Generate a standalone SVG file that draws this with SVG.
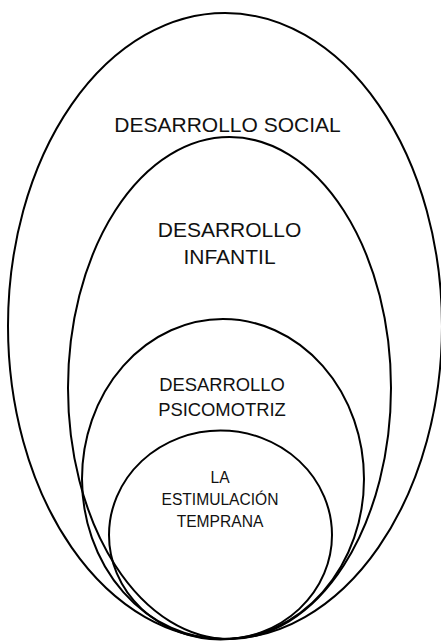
<svg xmlns="http://www.w3.org/2000/svg" width="441" height="642" viewBox="0 0 441 642">
<style>
.e{fill:none;stroke:#000;stroke-width:2}
text{font-family:"Liberation Sans",Arial,sans-serif;fill:#111;text-anchor:middle}
</style>
<rect width="441" height="642" fill="#fff"/>
<g id="social">
<ellipse class="e" cx="225" cy="326" rx="217" ry="313"/>
<text x="227.5" y="132" font-size="21">DESARROLLO SOCIAL</text>
</g>
<g id="infantil">
<ellipse class="e" cx="229.5" cy="388" rx="161.5" ry="251"/>
<text x="229.5" y="237" font-size="21">DESARROLLO</text>
<text x="229.5" y="264" font-size="21">INFANTIL</text>
</g>
<g id="psicomotriz">
<ellipse class="e" cx="223" cy="479" rx="141" ry="160"/>
<text x="222" y="391" font-size="18.4">DESARROLLO</text>
<text x="222" y="415.5" font-size="18.4">PSICOMOTRIZ</text>
</g>
<g id="estimulacion">
<ellipse class="e" cx="220.5" cy="535" rx="111.5" ry="104.5"/>
<text x="220" y="483" font-size="15.6">LA</text>
<text x="220" y="505" font-size="15.6">ESTIMULACIÓN</text>
<text x="220" y="527" font-size="15.6">TEMPRANA</text>
</g>
<g id="connectors"/>
</svg>
